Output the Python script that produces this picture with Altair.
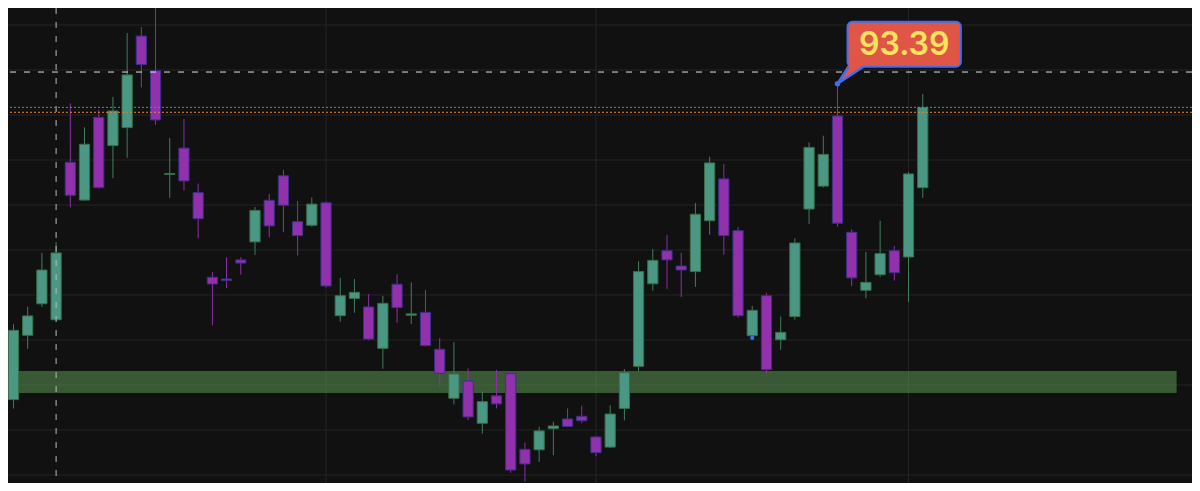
import altair as alt
import pandas as pd

# ---------------- data ----------------
idx = list(range(66))
opens = [77.35, 79.35, 82.21, 83.61, 82.90, 89.90, 88.22, 91.90, 90.64, 91.44,
         95.51, 93.97, 89.36, 90.53, 88.55, 84.79, 84.71, 85.56, 86.36, 88.21,
         89.30, 87.26, 87.10, 88.10, 83.08, 83.85, 83.47, 81.63, 84.48, 83.10,
         83.23, 81.59, 79.41, 80.18, 78.30, 79.52, 80.50, 77.14, 77.12, 78.06,
         78.49, 78.61, 77.69, 77.24, 78.96, 80.83, 84.50, 85.97, 85.29, 85.04,
         87.30, 89.16, 86.86, 82.19, 83.97, 82.01, 83.04, 87.82, 88.84, 91.96,
         86.79, 84.21, 84.90, 85.97, 85.69, 88.77]
highs = [78.98, 82.70, 83.48, 85.87, 86.36, 92.52, 91.45, 92.22, 92.80, 95.64,
         95.91, 97.33, 90.98, 91.82, 88.95, 85.02, 85.68, 85.68, 87.91, 88.49,
         89.56, 88.18, 88.34, 88.16, 84.76, 84.71, 84.04, 83.96, 84.92, 84.56,
         84.22, 82.08, 81.90, 80.74, 79.72, 80.67, 80.58, 77.44, 78.15, 78.37,
         78.96, 79.08, 77.73, 79.10, 80.71, 85.50, 86.04, 86.67, 85.87, 88.09,
         90.15, 89.82, 87.02, 83.51, 84.10, 83.04, 86.52, 90.78, 91.08, 93.39,
         86.92, 85.92, 87.30, 86.18, 89.47, 92.93]
lows = [77.11, 78.95, 81.61, 83.47, 82.88, 87.90, 88.20, 88.73, 89.19, 90.10,
        93.23, 91.57, 88.32, 88.65, 86.52, 82.65, 84.30, 84.90, 85.78, 86.56,
        86.79, 85.76, 87.04, 84.33, 82.81, 83.21, 81.99, 80.72, 82.77, 82.71,
        81.71, 79.91, 79.14, 78.44, 77.84, 78.96, 76.10, 75.70, 76.58, 76.88,
        78.13, 78.30, 76.84, 77.20, 78.43, 80.61, 84.19, 84.27, 83.91, 84.36,
        86.68, 85.79, 82.99, 82.18, 80.50, 81.57, 82.90, 87.16, 88.78, 87.04,
        84.40, 83.85, 84.81, 84.64, 83.69, 88.32]
closes = [78.74, 82.43, 83.07, 85.11, 85.87, 88.43, 90.70, 88.77, 92.18, 93.78,
          94.24, 91.78, 89.40, 89.07, 87.39, 84.49, 84.64, 85.42, 87.76, 87.07,
          87.99, 86.64, 88.04, 84.40, 83.97, 84.12, 82.04, 83.63, 83.44, 83.16,
          81.75, 80.52, 80.49, 78.58, 79.26, 79.16, 76.22, 76.49, 77.96, 78.18,
          78.16, 78.41, 76.99, 78.71, 80.55, 85.04, 85.54, 85.56, 85.11, 87.59,
          89.87, 86.64, 83.08, 83.32, 80.68, 82.34, 86.31, 90.56, 90.25, 87.19,
          84.76, 84.56, 85.84, 84.99, 89.38, 92.34]

grid_prices = [96, 94, 92, 90, 88, 86, 84, 82, 80, 78, 76]
grid_idx = [23, 42, 64, 84]
crosshair_idx = [4]
crosshair_price = [93.91]
last_price = [92.34]
orange_price = [92.12]
band_start, band_end = [0.0], [82.87]
band_low, band_high = [79.64], [80.62]
marker_idx, marker_price = [53], [82.09]
callout_idx = 59

# ---------------- styles ----------------
BG = "#111111"
GRID = "#242424"
UP_BODY, UP_EDGE, UP_WICK = "#4a9883", "#3a6e48", "#3f7f5c"
DN_BODY, DN_EDGE, DN_WICK = "#9131ab", "#3b2f8c", "#8e2fa8"
BLUE = "#3d6df2"
RED = "#e05646"
YELLOW = "#f9e35c"

X_DOMAIN = [0.6145, 83.953]
Y_DOMAIN = [75.644, 96.756]
xs = alt.Scale(domain=X_DOMAIN, nice=False, zero=False)
ys = alt.Scale(domain=Y_DOMAIN, nice=False, zero=False)


def X(f):
    return alt.X(f, scale=xs, axis=None)


def Y(f):
    return alt.Y(f, scale=ys, axis=None)


candles = pd.DataFrame({"i": idx, "open": opens, "high": highs,
                        "low": lows, "close": closes})
up = "datum.close >= datum.open"

hgrid = alt.Chart(pd.DataFrame({"p": grid_prices})).mark_rule(
    color=GRID, strokeWidth=1, clip=True).encode(y=Y("p:Q"))
vgrid = alt.Chart(pd.DataFrame({"i": grid_idx})).mark_rule(
    color=GRID, strokeWidth=1, clip=True).encode(x=X("i:Q"))

band = alt.Chart(pd.DataFrame({"x0": band_start, "x1": band_end,
                               "lo": band_low, "hi": band_high})).mark_rect(
    color="#558b4d", opacity=0.6, clip=True).encode(
    x=X("x0:Q"), x2="x1:Q", y=Y("lo:Q"), y2="hi:Q")

wicks = alt.Chart(candles).mark_rule(strokeWidth=1, clip=True).encode(
    x=X("i:Q"), y=Y("low:Q"), y2="high:Q",
    color=alt.condition(up, alt.value(UP_WICK), alt.value(DN_WICK)))

bodies = alt.Chart(candles).transform_calculate(
    x0="datum.i - 0.36", x1="datum.i + 0.36").mark_rect(
    strokeWidth=1, clip=True).encode(
    x=X("x0:Q"), x2="x1:Q", y=Y("open:Q"), y2="close:Q",
    fill=alt.condition(up, alt.value(UP_BODY), alt.value(DN_BODY)),
    stroke=alt.condition(up, alt.value(UP_EDGE), alt.value(DN_EDGE)))

cross_v = alt.Chart(pd.DataFrame({"i": crosshair_idx})).mark_rule(
    color="#b8bdb8", strokeWidth=1, strokeDash=[6, 8], clip=True).encode(x=X("i:Q"))
cross_h = alt.Chart(pd.DataFrame({"p": crosshair_price})).mark_rule(
    color="#e0e0e0", strokeWidth=1, strokeDash=[6, 8], clip=True).encode(y=Y("p:Q"))
teal_line = alt.Chart(pd.DataFrame({"p": last_price})).mark_rule(
    color="#4a9a84", strokeWidth=1, strokeDash=[2, 2], clip=True).encode(y=Y("p:Q"))
orange_line = alt.Chart(pd.DataFrame({"p": orange_price})).mark_rule(
    color="#e8802e", strokeWidth=1, strokeDash=[2, 2], clip=True).encode(y=Y("p:Q"))

marker = alt.Chart(pd.DataFrame({"i": marker_idx, "p": marker_price})).mark_point(
    filled=True, size=18, color=BLUE, opacity=1, clip=True).encode(x=X("i:Q"), y=Y("p:Q"))

# ---------------- callout built from the anchor candle's high ----------------
ai = idx[callout_idx]
ap = highs[callout_idx]
box = pd.DataFrame({"x0": [ai + 0.704], "x1": [ai + 8.686],
                    "y0": [ap + 0.756], "y1": [ap + 2.756]})
box_mark = alt.Chart(box).mark_rect(
    fill=RED, stroke=BLUE, strokeWidth=2, cornerRadius=5, clip=True).encode(
    x=X("x0:Q"), x2="x1:Q", y=Y("y0:Q"), y2="y1:Q")

tail = pd.DataFrame({"x": [ai, ai + 0.774, ai + 1.83],
                     "top": [ap, ap + 0.86, ap + 0.86],
                     "bot": [ap, ap + 0.325, ap + 0.769]})
tail_mark = alt.Chart(tail).mark_area(color=RED, opacity=1, clip=True).encode(
    x=X("x:Q"), y=Y("top:Q"), y2="bot:Q")

edges = pd.DataFrame({"seg": ["L", "L", "R", "R"],
                      "x": [ai, ai + 0.774, ai, ai + 1.83],
                      "y": [ap, ap + 0.756, ap, ap + 0.756]})
edge_mark = alt.Chart(edges).mark_line(color=BLUE, strokeWidth=2.5, clip=True).encode(
    x=X("x:Q"), y=Y("y:Q"), detail="seg:N")

dot = alt.Chart(pd.DataFrame({"x": [ai], "y": [ap]})).mark_point(
    filled=True, size=30, color=BLUE, opacity=1, clip=True).encode(x=X("x:Q"), y=Y("y:Q"))

label = alt.Chart(pd.DataFrame({"x": [ai + 4.695], "y": [ap + 1.756],
                                "t": [f"{ap:.2f}"]})).mark_text(
    font="Inter", fontSize=32, fontWeight=600, color=YELLOW,
    align="center", baseline="middle", dy=1, clip=True).encode(
    x=X("x:Q"), y=Y("y:Q"), text="t:N")

chart = alt.layer(
    hgrid, vgrid, band, wicks, bodies, cross_v, cross_h, teal_line, orange_line,
    marker, box_mark, tail_mark, edge_mark, dot, label
).properties(
    width=1184, height=475, padding=0, background=BG
).configure_view(strokeWidth=0)

chart.save("out.html", embed_options={"renderer": "svg", "actions": False})
